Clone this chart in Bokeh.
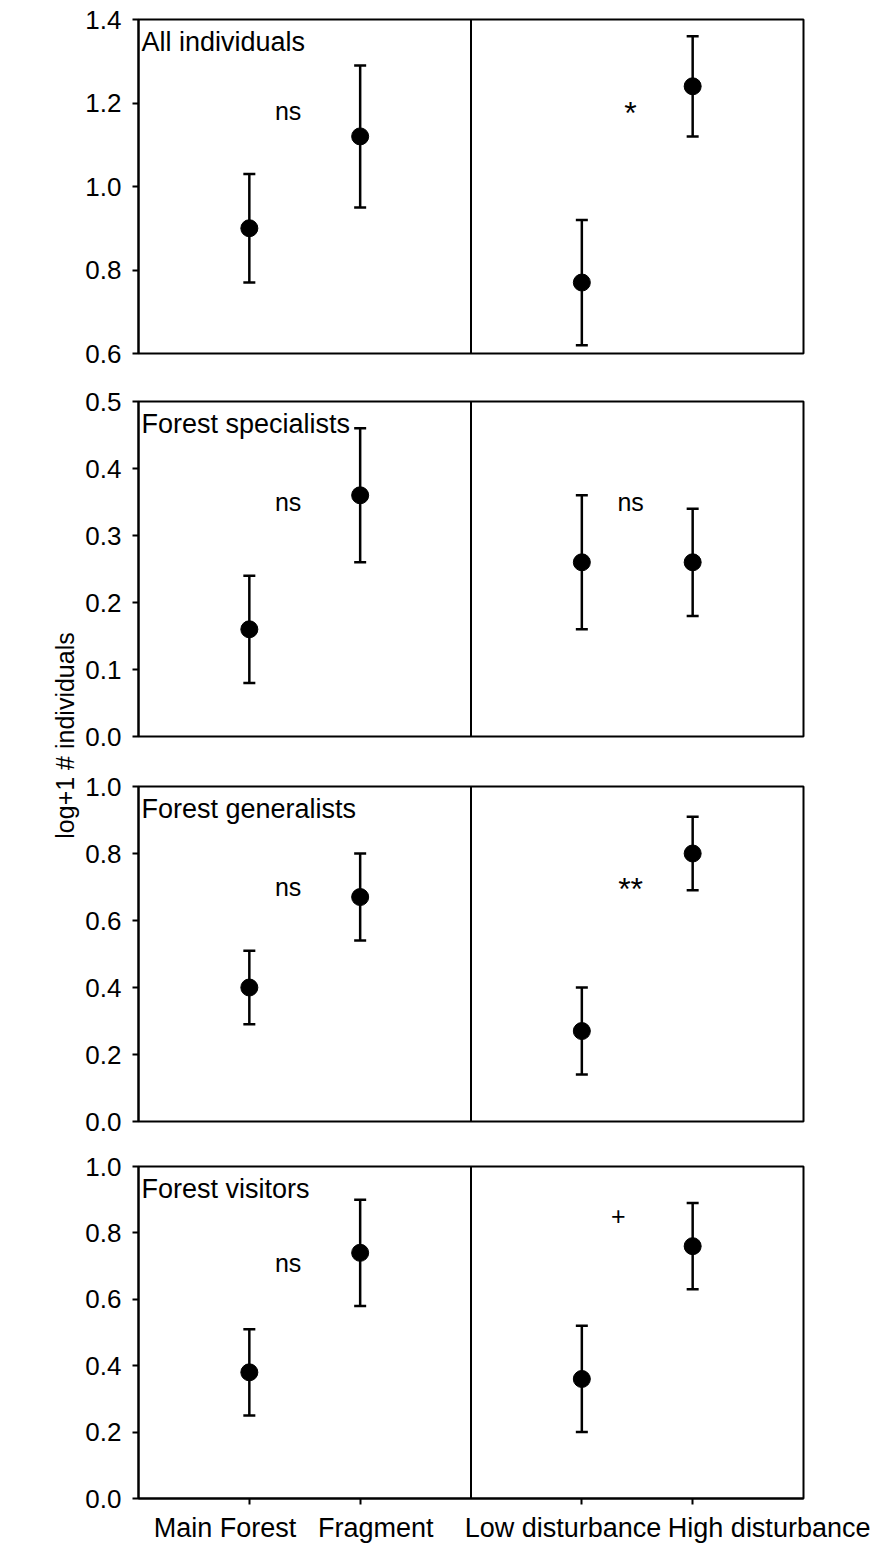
import math
from bokeh.plotting import figure
from bokeh.models import Range1d, FixedTicker, Span, Whisker, ColumnDataSource, TeeHead
from bokeh.layouts import column, row
from bokeh.embed import file_html
from bokeh.resources import INLINE
from bokeh.core.properties import value

# ---------------- data ----------------
categories = ["Main Forest", "Fragment", "Low disturbance", "High disturbance"]
cat_x = [1, 2, 4, 5]

panel_titles = ["All individuals", "Forest specialists", "Forest generalists", "Forest visitors"]

all_mean = [0.90, 1.12, 0.77, 1.24]
all_upper = [1.03, 1.29, 0.92, 1.36]
all_lower = [0.77, 0.95, 0.62, 1.12]

spec_mean = [0.16, 0.36, 0.26, 0.26]
spec_upper = [0.24, 0.46, 0.36, 0.34]
spec_lower = [0.08, 0.26, 0.16, 0.18]

gen_mean = [0.40, 0.67, 0.27, 0.80]
gen_upper = [0.51, 0.80, 0.40, 0.91]
gen_lower = [0.29, 0.54, 0.14, 0.69]

vis_mean = [0.38, 0.74, 0.36, 0.76]
vis_upper = [0.51, 0.90, 0.52, 0.89]
vis_lower = [0.25, 0.58, 0.20, 0.63]

sig_left = ["ns", "ns", "ns", "ns"]
sig_right = ["*", "ns", "**", "+"]

y_ranges = [(0.6, 1.4), (0.0, 0.5), (0.0, 1.0), (0.0, 1.0)]
y_ticks = [
    [0.6, 0.8, 1.0, 1.2, 1.4],
    [0.0, 0.1, 0.2, 0.3, 0.4, 0.5],
    [0.0, 0.2, 0.4, 0.6, 0.8, 1.0],
    [0.0, 0.2, 0.4, 0.6, 0.8, 1.0],
]
y_axis_label = "log+1 # individuals"

# ---------------- layout / style ----------------
FONT = "Liberation Sans"
means = [all_mean, spec_mean, gen_mean, vis_mean]
uppers = [all_upper, spec_upper, gen_upper, vis_upper]
lowers = [all_lower, spec_lower, gen_lower, vis_lower]

sig_left_x = [1.35, 1.35, 1.35, 1.35]
sig_left_y = [1.18, 0.35, 0.70, 0.71]
sig_right_x = [4.44, 4.44, 4.44, 4.33]
sig_right_y = [1.175, 0.35, 0.695, 0.85]
label_x = [0.78, 2.14, 3.83, 5.69]

tops = [19, 24, 25, 23]
frames = [334, 335, 335, 334]
bottoms = [24, 25, 22, 45]

LEFT_FIG_W = 82
MBL = 52
MBR = 72
FRAME_W = 669

panels = []
for i in range(4):
    y0, y1 = y_ranges[i]
    h = tops[i] + frames[i] + bottoms[i]
    p = figure(width=MBL + FRAME_W + MBR, height=h,
               x_range=Range1d(0, 6), y_range=Range1d(y0, y1),
               output_backend="svg", toolbar_location=None,
               min_border_left=MBL, min_border_right=MBR,
               min_border_top=tops[i], min_border_bottom=bottoms[i])
    p.grid.visible = False
    p.outline_line_color = "black"
    p.outline_line_width = 2
    p.outline_line_alpha = 1.0
    p.background_fill_color = "white"
    p.border_fill_color = "white"

    # y axis
    ya = p.yaxis[0]
    ya.ticker = FixedTicker(ticks=y_ticks[i], minor_ticks=[])
    ya.major_label_overrides = {t: f"{t:.1f}" for t in y_ticks[i]}
    ya.axis_line_color = "black"
    ya.axis_line_width = 2
    ya.major_tick_line_color = "black"
    ya.major_tick_line_width = 2
    ya.major_tick_in = 0
    ya.major_tick_out = 6
    ya.minor_tick_line_color = None
    ya.major_label_standoff = 11
    ya.major_label_text_font = FONT
    ya.major_label_text_font_size = "26px"
    ya.major_label_text_color = "black"

    xa = p.xaxis[0]
    if i < 3:
        xa.visible = False
    else:
        xa.ticker = FixedTicker(ticks=label_x, minor_ticks=cat_x)
        xa.major_label_overrides = {lx: c for lx, c in zip(label_x, categories)}
        xa.axis_line_color = "black"
        xa.axis_line_width = 2
        xa.major_tick_line_color = None
        xa.major_tick_out = 6
        xa.major_tick_in = 0
        xa.minor_tick_line_color = "black"
        xa.minor_tick_line_width = 2
        xa.minor_tick_out = 6
        xa.minor_tick_in = 0
        xa.major_label_standoff = 8
        xa.major_label_text_font = FONT
        xa.major_label_text_font_size = "27px"
        xa.major_label_text_color = "black"

    # divider
    p.add_layout(Span(location=3, dimension="height", line_color="black", line_width=2))

    src = ColumnDataSource(dict(x=cat_x, mean=means[i], upper=uppers[i], lower=lowers[i]))
    w = Whisker(source=src, base="x", upper="upper", lower="lower",
                line_color="black", line_width=2.5,
                upper_head=TeeHead(size=12, line_color="black", line_width=2.5),
                lower_head=TeeHead(size=12, line_color="black", line_width=2.5))
    p.add_layout(w)
    p.scatter(x="x", y="mean", source=src, size=17, fill_color="black", line_color="black")

    # panel title
    p.text(x=[0], y=[y1], text=[panel_titles[i]], x_offset=3, y_offset=7,
           text_align="left", text_baseline="top",
           text_font=value(FONT), text_font_size="27px", text_color="black")

    # significance labels
    p.text(x=[sig_left_x[i]], y=[sig_left_y[i]], text=[sig_left[i]],
           text_align="center", text_baseline="middle",
           text_font=value(FONT), text_font_size="25px", text_color="black")
    rs = "32px" if "*" in sig_right[i] else "25px"
    p.text(x=[sig_right_x[i]], y=[sig_right_y[i]], text=[sig_right[i]],
           text_align="center", text_baseline="middle",
           text_font=value(FONT), text_font_size=rs, text_color="black")
    panels.append(p)

total_h = sum(tops) + sum(frames) + sum(bottoms)

lf = figure(width=LEFT_FIG_W, height=total_h, x_range=Range1d(0, LEFT_FIG_W),
            y_range=Range1d(0, total_h), output_backend="svg", toolbar_location=None,
            x_axis_location=None, y_axis_location=None, min_border=0)
lf.grid.visible = False
lf.outline_line_color = None
lf.text(x=[LEFT_FIG_W - 18], y=[total_h - 735], text=[y_axis_label], angle=math.pi / 2,
        text_align="center", text_baseline="middle",
        text_font=value(FONT), text_font_size="25px", text_color="black")

layout = row(lf, column(*panels))

open("out.html", "w").write(file_html(layout, INLINE))
